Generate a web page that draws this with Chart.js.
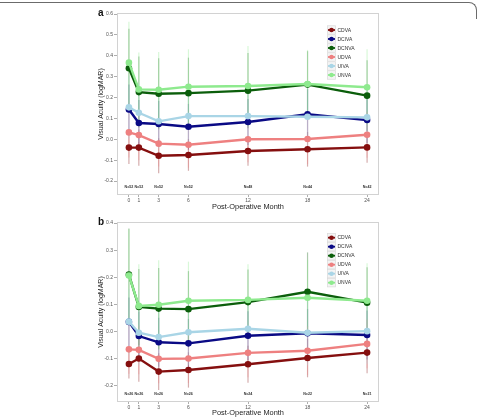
<!DOCTYPE html>
<html><head><meta charset="utf-8">
<script src="https://cdn.jsdelivr.net/npm/chart.js@4.4.0/dist/chart.umd.min.js"></script>
<style>
html,body{margin:0;padding:0;background:#fff;}
body{width:482px;height:418px;position:relative;overflow:hidden;font-family:"Liberation Sans",Arial,sans-serif;}
#frame{position:absolute;left:0;top:2px;width:476px;height:16px;border-top:1px solid #6b6b6b;border-right:1px solid #6b6b6b;border-top-right-radius:8px;}
canvas{position:absolute;left:0;}
#ca{top:0;}
#cb{top:209px;}
</style>
</head><body>
<div id="frame"></div>
<canvas id="ca" width="482" height="211"></canvas>
<canvas id="cb" width="482" height="209"></canvas>
<script>
// ---- data ----
const months = [0, 1, 3, 6, 12, 18, 24];
const seriesNames = ['CDVA', 'DCIVA', 'DCNVA', 'UDVA', 'UIVA', 'UNVA'];

// Panel a: means
const a_CDVA  = [-0.040, -0.040, -0.079, -0.075, -0.056, -0.048, -0.039];
const a_DCIVA = [0.143, 0.078, 0.073, 0.060, 0.083, 0.120, 0.092];
const a_DCNVA = [0.340, 0.226, 0.218, 0.221, 0.233, 0.262, 0.209];
const a_UDVA  = [0.033, 0.020, -0.021, -0.026, 0.000, 0.001, 0.022];
const a_UIVA  = [0.153, 0.127, 0.086, 0.111, 0.111, 0.108, 0.105];
const a_UNVA  = [0.367, 0.239, 0.237, 0.252, 0.255, 0.265, 0.249];
// Panel a: standard deviations
const a_CDVA_sd  = [0.079, 0.087, 0.084, 0.076, 0.071, 0.083, 0.073];
const a_DCIVA_sd = [0.12, 0.11, 0.11, 0.11, 0.11, 0.12, 0.11];
const a_DCNVA_sd = [0.19, 0.17, 0.17, 0.17, 0.18, 0.16, 0.17];
const a_UDVA_sd  = [0.12, 0.12, 0.11, 0.11, 0.11, 0.12, 0.11];
const a_UIVA_sd  = [0.15, 0.14, 0.13, 0.14, 0.14, 0.14, 0.14];
const a_UNVA_sd  = [0.196, 0.177, 0.181, 0.179, 0.192, 0.163, 0.182];
const a_N = ['N=52', 'N=52', 'N=52', 'N=52', 'N=48', 'N=44', 'N=42'];
const a_yTicks = [-0.2, -0.1, 0.0, 0.1, 0.2, 0.3, 0.4, 0.5, 0.6];

// Panel b: means
const b_CDVA  = [-0.119, -0.099, -0.147, -0.141, -0.120, -0.097, -0.077];
const b_DCIVA = [0.036, -0.016, -0.039, -0.043, -0.015, -0.006, -0.012];
const b_DCNVA = [0.210, 0.091, 0.085, 0.083, 0.109, 0.147, 0.107];
const b_UDVA  = [-0.065, -0.067, -0.100, -0.099, -0.078, -0.070, -0.045];
const b_UIVA  = [0.037, -0.004, -0.020, -0.002, 0.011, -0.004, 0.002];
const b_UNVA  = [0.207, 0.095, 0.099, 0.114, 0.117, 0.125, 0.114];
// Panel b: standard deviations
const b_CDVA_sd  = [0.053, 0.085, 0.068, 0.065, 0.068, 0.071, 0.076];
const b_DCIVA_sd = [0.09, 0.09, 0.09, 0.09, 0.09, 0.09, 0.09];
const b_DCNVA_sd = [0.17, 0.14, 0.15, 0.14, 0.12, 0.145, 0.13];
const b_UDVA_sd  = [0.09, 0.09, 0.09, 0.09, 0.09, 0.09, 0.09];
const b_UIVA_sd  = [0.12, 0.12, 0.12, 0.12, 0.11, 0.12, 0.12];
const b_UNVA_sd  = [0.171, 0.153, 0.164, 0.144, 0.131, 0.14, 0.138];
const b_N = ['N=26', 'N=26', 'N=26', 'N=26', 'N=24', 'N=22', 'N=21'];
const b_yTicks = [-0.2, -0.1, 0.0, 0.1, 0.2, 0.3, 0.4];

// ---- styles ----
const COLORS = ['#850f0f', '#0a0a85', '#0b5e0b', '#ee8080', '#a9d5e6', '#8eea8e'];
const FONT = '"Liberation Sans", Arial, Helvetica, sans-serif';
function rgba(hex, a) {
  const n = parseInt(hex.slice(1), 16);
  return `rgba(${(n >> 16) & 255},${(n >> 8) & 255},${n & 255},${a})`;
}

function makePanel(id, letter, means, sds, nLabels, yTicks, ymin, ymax, pad, xAxisH, legendTop) {
  const datasets = seriesNames.map((name, i) => ({
    label: name,
    data: months.map((m, j) => ({ x: m, y: means[i][j] })),
    sd: sds[i],
    borderColor: COLORS[i],
    backgroundColor: COLORS[i],
    pointBackgroundColor: COLORS[i],
    pointBorderColor: COLORS[i],
    borderWidth: 2.4,
    pointRadius: 3.3,
    pointBorderWidth: 0,
    tension: 0,
    showLine: true,
    order: seriesNames.length - i
  }));

  const framePlugin = {
    id: 'frame',
    beforeDatasetsDraw(chart) {
      const { ctx, chartArea: ca, scales } = chart;
      ctx.save();
      ctx.strokeStyle = '#d2d2d2';
      ctx.lineWidth = 1;
      ctx.strokeRect(Math.round(ca.left) + 0.5, Math.round(ca.top) + 0.5,
        Math.round(ca.right - ca.left) - 1, Math.round(ca.bottom - ca.top) - 1);
      // error bars
      ctx.lineWidth = 1.2;
      chart.data.datasets.forEach((ds, i) => {
        ctx.strokeStyle = rgba(COLORS[i], 0.34);
        ds.data.forEach((p, j) => {
          const x = scales.x.getPixelForValue(p.x);
          const y1 = scales.y.getPixelForValue(p.y + ds.sd[j]);
          const y2 = scales.y.getPixelForValue(p.y - ds.sd[j]);
          ctx.beginPath();
          ctx.moveTo(x, y1);
          ctx.lineTo(x, y2);
          ctx.stroke();
        });
      });
      ctx.restore();
    },
    afterDatasetsDraw(chart) {
      const { ctx, scales } = chart;
      ctx.save();
      ctx.fillStyle = '#333';
      ctx.font = 'bold 3.6px ' + FONT;
      ctx.textAlign = 'center';
      ctx.textBaseline = 'middle';
      months.forEach((m, j) => {
        ctx.fillText(nLabels[j], scales.x.getPixelForValue(m), scales.y.getPixelForValue(-0.23));
      });
      ctx.restore();
    },
    afterDraw(chart) {
      const { ctx, chartArea: ca } = chart;
      ctx.save();
      // panel letter
      ctx.fillStyle = '#111';
      ctx.font = 'bold 10px ' + FONT;
      ctx.textBaseline = 'alphabetic';
      ctx.textAlign = 'left';
      ctx.fillText(letter, 98, ca.top + 2.5);
      // legend
      const kx = 327, kw = 9, rowH = 9;
      seriesNames.forEach((name, i) => {
        const cy = ca.top + legendTop + i * rowH;
        ctx.fillStyle = '#f4f4f4';
        ctx.fillRect(kx, cy - rowH / 2, kw, rowH);
        ctx.strokeStyle = '#d8d8d8';
        ctx.lineWidth = 0.6;
        ctx.strokeRect(kx + 0.3, cy - rowH / 2 + 0.3, kw - 0.6, rowH - 0.6);
        ctx.strokeStyle = COLORS[i];
        ctx.lineWidth = 1.8;
        ctx.beginPath();
        ctx.moveTo(kx + 1, cy);
        ctx.lineTo(kx + kw - 1, cy);
        ctx.stroke();
        ctx.fillStyle = COLORS[i];
        ctx.beginPath();
        ctx.arc(kx + kw / 2, cy, 2.3, 0, Math.PI * 2);
        ctx.fill();
        ctx.fillStyle = '#333';
        ctx.font = '5px ' + FONT;
        ctx.textBaseline = 'middle';
        ctx.fillText(name, kx + kw + 1.5, cy + 0.3);
      });
      ctx.restore();
    }
  };

  return new Chart(document.getElementById(id), {
    type: 'line',
    data: { datasets },
    plugins: [framePlugin],
    options: {
      responsive: false,
      animation: false,
      devicePixelRatio: 1,
      layout: { padding: pad },
      plugins: { legend: { display: false }, tooltip: { enabled: false } },
      scales: {
        x: {
          type: 'linear',
          min: -1.2, max: 25.2,
          afterBuildTicks: s => { s.ticks = months.map(v => ({ value: v })); },
          afterFit: s => { s.height = xAxisH; },
          ticks: { autoSkip: false, maxRotation: 0, padding: 0.5, color: '#555',
                   font: { size: 5, family: FONT }, callback: v => String(v) },
          grid: { display: true, drawOnChartArea: false, drawTicks: true, tickLength: 2,
                  color: '#777', lineWidth: 0.6 },
          border: { display: false },
          title: { display: true, text: 'Post-Operative Month', color: '#222', padding: 0,
                   font: { size: 7.4, family: FONT, lineHeight: 1 } }
        },
        y: {
          type: 'linear',
          min: ymin, max: ymax,
          afterBuildTicks: s => { s.ticks = yTicks.map(v => ({ value: v })); },
          afterFit: s => { s.width = 19; },
          ticks: { autoSkip: false, padding: 1, color: '#555',
                   font: { size: 5, family: FONT }, callback: v => Number(v).toFixed(1) },
          grid: { display: true, drawOnChartArea: false, drawTicks: true, tickLength: 3,
                  color: '#777', lineWidth: 0.6 },
          border: { display: false },
          title: { display: true, text: 'Visual Acuity (logMAR)', color: '#222', padding: 0,
                   font: { size: 7, family: FONT, lineHeight: 1 } }
        }
      }
    }
  });
}

makePanel('ca', 'a',
  [a_CDVA, a_DCIVA, a_DCNVA, a_UDVA, a_UIVA, a_UNVA],
  [a_CDVA_sd, a_DCIVA_sd, a_DCNVA_sd, a_UDVA_sd, a_UIVA_sd, a_UNVA_sd],
  a_N, a_yTicks, -0.267, 0.605,
  { left: 98, right: 103, top: 13, bottom: 0 }, 16, 17);

makePanel('cb', 'b',
  [b_CDVA, b_DCIVA, b_DCNVA, b_UDVA, b_UIVA, b_UNVA],
  [b_CDVA_sd, b_DCIVA_sd, b_DCNVA_sd, b_UDVA_sd, b_UIVA_sd, b_UNVA_sd],
  b_N, b_yTicks, -0.259, 0.404,
  { left: 98, right: 103, top: 13, bottom: 1 }, 15, 15.7);
</script>
</body></html>
